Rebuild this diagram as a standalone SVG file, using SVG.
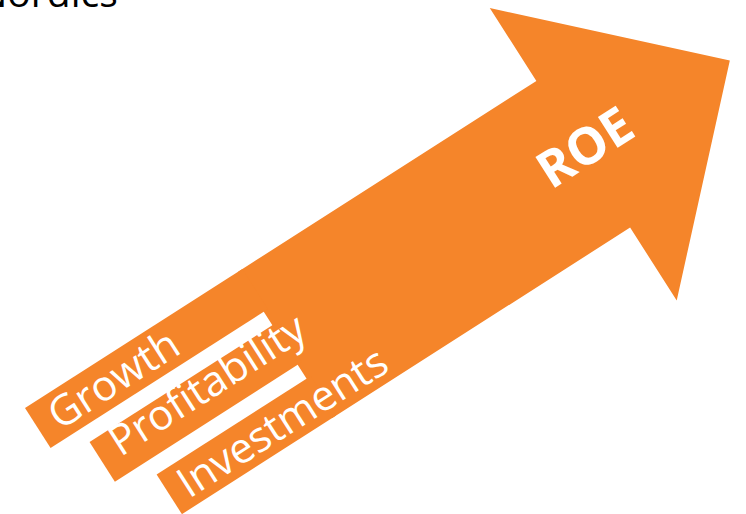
<svg xmlns="http://www.w3.org/2000/svg" width="746" height="514" viewBox="0 0 746 514">
  <style>
    .fill { fill: #F5852A; }
    .label { font-family: "Open Sans", "Liberation Sans", sans-serif; font-size: 42px; fill: #FFFFFF; }
    .roe { font-family: "Open Sans", "Liberation Sans", sans-serif; font-size: 51px; font-weight: 700; fill: #FFFFFF; }
    .title { font-family: "Open Sans", "Liberation Sans", sans-serif; font-size: 39px; fill: #000000; }
  </style>
  <rect width="746" height="514" fill="#FFFFFF"/>

  <g id="title">
    <text class="title" x="-22" y="7">Nordics</text>
  </g>

  <!-- Everything below is laid out along the arrow axis: x runs along the shaft, y across it -->
  <g transform="translate(25,408) rotate(-32.6)">
    <g id="roe">
      <polygon class="fill" points="253,0 607,0 607,-86.5 781,87 607,260.5 607,174 253,174"/>
      <text class="roe" x="612" y="100" text-anchor="middle">ROE</text>
    </g>
    <g id="growth">
      <rect class="fill" x="0" y="0" width="258" height="47.5"/>
      <text class="label" x="17" y="38">Growth</text>
    </g>
    <g id="profitability">
      <rect class="fill" x="36" y="63.5" width="222" height="47"/>
      <text class="label" x="54" y="93">Profitability</text>
    </g>
    <g id="investments">
      <rect class="fill" x="75" y="127" width="183" height="47"/>
      <text class="label" x="89" y="165">Investments</text>
    </g>
  </g>
</svg>
